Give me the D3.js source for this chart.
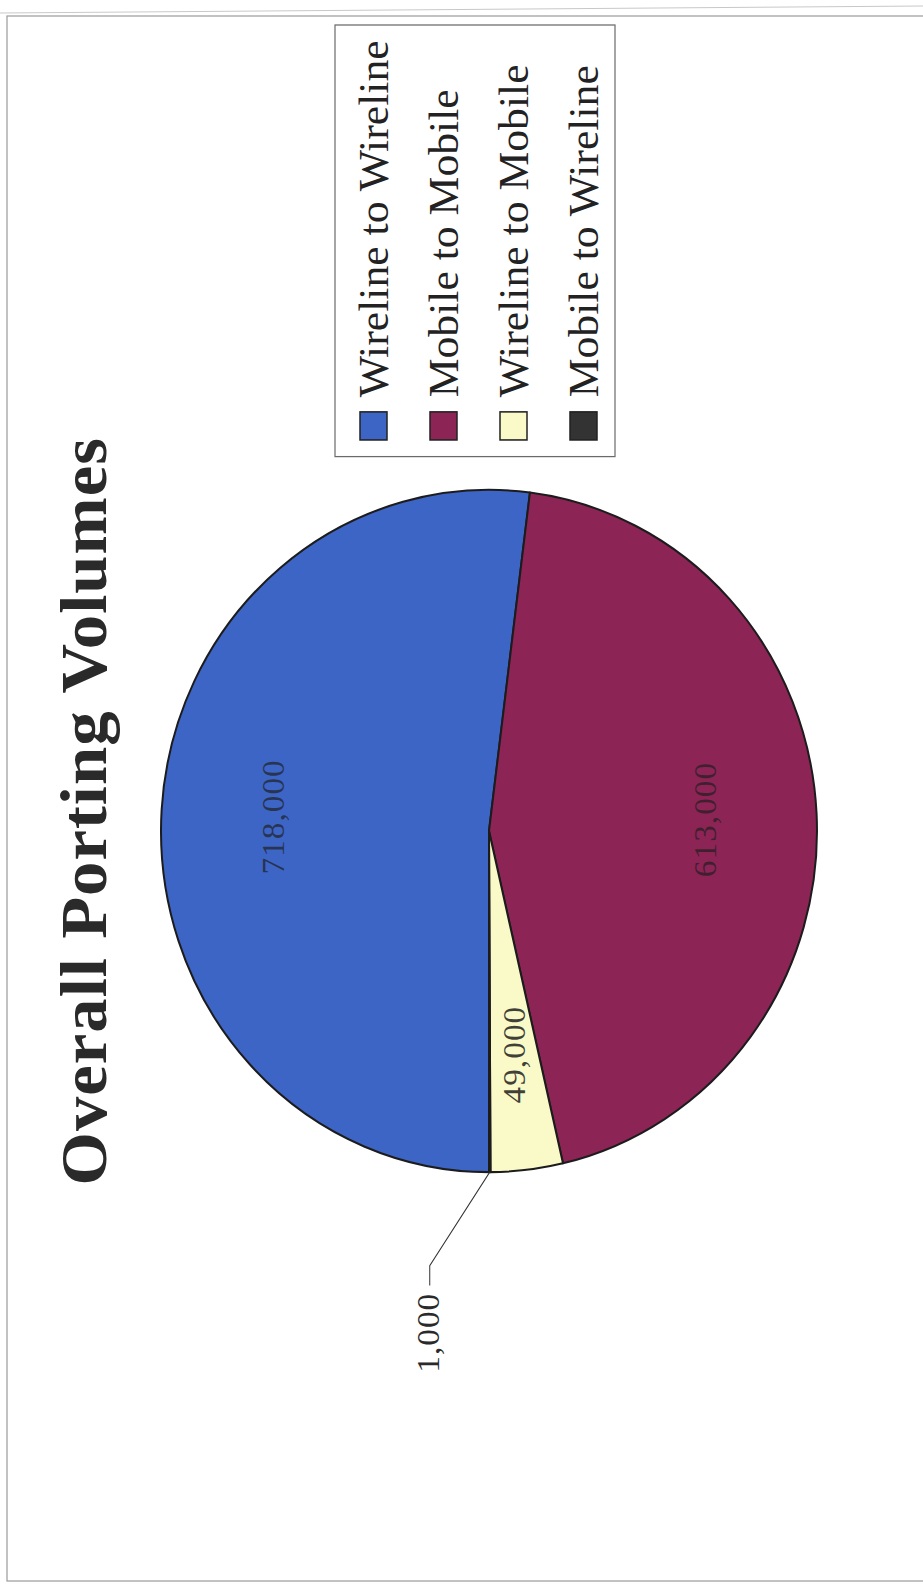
<!DOCTYPE html>
<html>
<head>
<meta charset="utf-8">
<script src="https://cdn.jsdelivr.net/npm/d3@7"></script>
<style>
  html, body { margin: 0; padding: 0; background: #fff; }
  svg { display: block; }
</style>
</head>
<body>
<script>
// chart data
var categories = ["Wireline to Wireline", "Mobile to Mobile", "Wireline to Mobile", "Mobile to Wireline"];
var volumes = [718000, 613000, 49000, 1000];
var sliceColors = ["#3d65c6", "#8d2456", "#fafac8", "#333333"];
var chartTitle = "Overall Porting Volumes";

var W = 923, H = 1585;
// the scanned page is turned on its side and a little stretched along its length
var stretch = 1.04;

var svg = d3.select("body").append("svg")
    .attr("width", W)
    .attr("height", H);

// page frame of the scan
svg.append("line")
    .attr("x1", 0).attr("y1", 13).attr("x2", W).attr("y2", 6)
    .style("stroke", "#c8c8c8").style("stroke-width", 1);
svg.append("rect")
    .attr("x", 7).attr("y", 16)
    .attr("width", W + 10).attr("height", 1565)
    .style("fill", "none").style("stroke", "#9a9a9a").style("stroke-width", 1.2);

// landscape chart, rotated a quarter turn counter-clockwise
var g = svg.append("g")
    .attr("transform", "translate(0," + H + ") scale(1," + stretch + ") rotate(-90)");

var font = "'Liberation Serif', 'Times New Roman', serif";

g.append("text")
    .attr("x", 744)
    .attr("y", 106)
    .attr("text-anchor", "middle")
    .style("font-family", font)
    .style("font-weight", "bold")
    .style("font-size", "66px")
    .style("letter-spacing", "1px")
    .style("fill", "#2a2a2a")
    .text(chartTitle);

// pie
var cx = 725, cy = 489, radius = 328;

var pie = d3.pie()
    .sort(null)
    .startAngle(Math.PI * 1.5)
    .endAngle(Math.PI * 3.5);

var arcs = pie(volumes);

var arc = d3.arc().innerRadius(0).outerRadius(radius);
var labelArc = d3.arc().innerRadius(radius * 0.66).outerRadius(radius * 0.66);
var outerArc = d3.arc().innerRadius(radius).outerRadius(radius);

var pieG = g.append("g")
    .attr("transform", "translate(" + cx + "," + cy + ")");

pieG.selectAll("path.slice")
    .data(arcs)
  .enter().append("path")
    .attr("class", "slice")
    .attr("d", arc)
    .style("fill", function(d, i) { return sliceColors[i]; })
    .style("stroke", "#1c1c1c")
    .style("stroke-width", 2)
    .style("stroke-linejoin", "round");

var fmt = d3.format(",");

// labels inside the bigger slices
pieG.selectAll("text.inside")
    .data(arcs.filter(function(d) { return d.endAngle - d.startAngle > 0.1; }))
  .enter().append("text")
    .attr("class", "inside")
    .attr("transform", function(d) { return "translate(" + labelArc.centroid(d) + ")"; })
    .attr("text-anchor", "middle")
    .attr("dominant-baseline", "central")
    .style("font-family", font)
    .style("font-size", "32px")
    .style("letter-spacing", "1px")
    .style("fill", "#1e1e1e")
    .style("fill-opacity", function(d) { return d.index == 2 ? 0.85 : 0.7; })
    .text(function(d) { return fmt(d.data); });

// tiny slice gets a leader line
var small = arcs.filter(function(d) { return d.endAngle - d.startAngle <= 0.1; });
small.forEach(function(d) {
  var p0 = outerArc.centroid(d);
  var p1 = [p0[0] - 90, p0[1] - 60];
  var p2 = [p1[0] - 19, p1[1]];
  pieG.append("polyline")
      .attr("points", [p0, p1, p2].map(function(p) { return p.join(","); }).join(" "))
      .style("fill", "none")
      .style("stroke", "#333")
      .style("stroke-width", 1);
  pieG.append("text")
      .attr("x", p2[0] - 7)
      .attr("y", p2[1] - 2)
      .attr("text-anchor", "end")
      .attr("dominant-baseline", "central")
      .style("font-family", font)
      .style("font-size", "32px")
      .style("letter-spacing", "1px")
      .style("fill", "#2a2a2a")
      .text(fmt(d.data));
});

// legend
var legX = 1085, legY = 335, legW = 415, legH = 280, rowH = 70;

var legend = g.append("g");
legend.append("rect")
    .attr("x", legX).attr("y", legY)
    .attr("width", legW).attr("height", legH)
    .style("fill", "#fff")
    .style("stroke", "#6a6a6a")
    .style("stroke-width", 1.2);

var rows = legend.selectAll("g.row")
    .data(categories)
  .enter().append("g")
    .attr("class", "row")
    .attr("transform", function(d, i) { return "translate(" + (legX + 16) + "," + (legY + 25 + i * rowH) + ")"; });

rows.append("rect")
    .attr("width", 27)
    .attr("height", 27)
    .style("fill", function(d, i) { return sliceColors[i]; })
    .style("stroke", "#222")
    .style("stroke-width", 1.5);

rows.append("text")
    .attr("x", 41)
    .attr("y", 28)
    .style("font-family", font)
    .style("font-size", "42px")
    .style("fill", "#222")
    .text(function(d) { return d; });
</script>
</body>
</html>
